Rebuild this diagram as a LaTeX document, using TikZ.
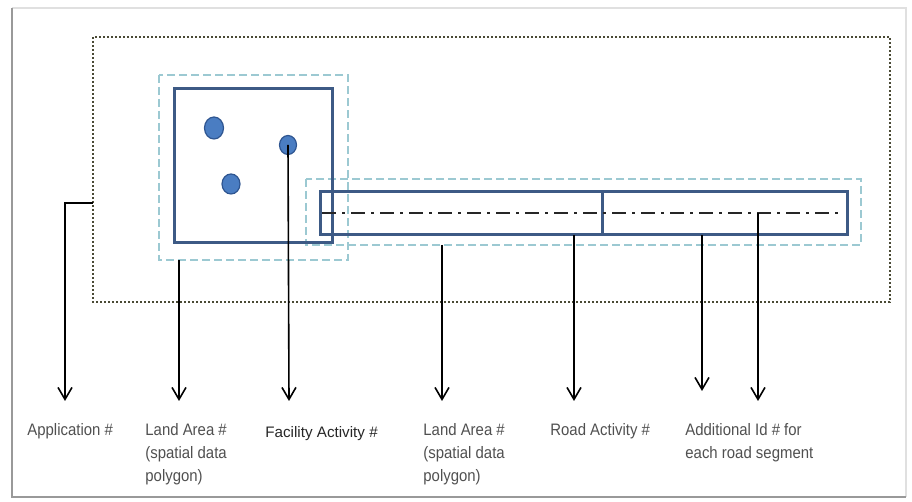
\documentclass[tikz,border=0pt]{standalone}
\usepackage{fontspec}
\setmainfont{Liberation Sans}
\newfontfamily\narrowsans[FakeStretch=0.9]{Liberation Sans}
\usetikzlibrary{arrows.meta,shapes.geometric}
\definecolor{boxblue}{HTML}{3D5A85}
\definecolor{dashcyan}{HTML}{9CC9D2}
\definecolor{dotolive}{HTML}{4A4A35}
\definecolor{dotfill}{HTML}{4A7DC2}
\definecolor{dotedge}{HTML}{2E5590}
\definecolor{labelgray}{HTML}{505050}
\tikzset{
  area/.style={draw=boxblue, line width=1.5pt},
  buffer/.style={draw=dashcyan, line width=1pt, dash pattern=on 4pt off 2pt},
  appbox/.style={draw=dotolive, line width=1.2pt, dash pattern=on 1pt off 1pt},
  centre/.style={draw=black!85, line width=1.3pt, dash pattern=on 7pt off 3pt on 1.5pt off 3pt},
  facility/.style={fill=dotfill, draw=dotedge, line width=0.6pt, ellipse, inner sep=0pt},
  pointer/.style={draw=black, line width=0.8pt, -{Straight Barb[length=6pt,width=7pt]}},
  lbl/.style={anchor=north west, inner sep=0pt, align=left, text=labelgray,
     font=\narrowsans\fontsize{8.3}{11.4}\selectfont},
}
\begin{document}
\begin{tikzpicture}[x=0.5pt,y=-0.5pt]
\useasboundingbox (0,0) rectangle (912,502);
% frame
\draw[black!12, line width=0.8pt] (12,8) -- (906,8) -- (906,497);
\draw[black!40, line width=1.3pt] (12,8) -- (12,497) -- (906,497);
% application boundary
\draw[appbox] (93,37) rectangle (890,302);
% buffers
\draw[buffer] (159,75) rectangle (348,260);
\draw[buffer] (306,179) rectangle (861,245);
% land area polygon and road
\draw[area] (174,89) rectangle (332,243);
\draw[area] (320,192) rectangle (847,235);
\draw[area] (602,192) -- (602,235);
\draw[centre] (322,213) -- (842,213);
% facilities
\node[facility, minimum width=9.5pt, minimum height=11pt] (f1) at (214,128) {};
\node[facility, minimum width=8.5pt, minimum height=9.5pt] (f2) at (288,145) {};
\node[facility, minimum width=9pt, minimum height=10pt] (f3) at (231,184) {};
% start points
\coordinate (sApp) at (93,203);
\coordinate (kApp) at (65,203);
\coordinate (sLa1) at (179,260);
\coordinate (sLa2) at (442,245);
\coordinate (sRoad) at (574,235);
\coordinate (sAdd1) at (702,235);
\coordinate (sAdd2) at (758,213);
% end points
\coordinate (eApp) at (65,401);
\coordinate (eLa1) at (179,401);
\coordinate (eFac) at (289,401);
\coordinate (eLa2) at (442,401);
\coordinate (eRoad) at (574,401);
\coordinate (eAdd1) at (702,391);
\coordinate (eAdd2) at (758,401);
\draw[pointer] (sApp) -- (kApp) -- (eApp);
\draw[pointer] (sLa1) -- (eLa1);
\draw[pointer] (f2.center) -- (eFac);
\draw[pointer] (sLa2) -- (eLa2);
\draw[pointer] (sRoad) -- (eRoad);
\draw[pointer] (sAdd1) -- (eAdd1);
\draw[pointer] (sAdd2) -- (eAdd2);
% labels
\node[lbl] (lApp) at (27,423) {Application \#};
\node[lbl] (lLa1) at (145,423) {Land Area \#\\(spatial data\\polygon)};
\node[lbl, text=black!85, font=\fontsize{7.6}{11.4}\selectfont] (lFac) at (265,426) {Facility Activity \#};
\node[lbl] (lLa2) at (423,423) {Land Area \#\\(spatial data\\polygon)};
\node[lbl] (lRoad) at (550,423) {Road Activity \#};
\node[lbl] (lAdd) at (685,423) {Additional Id \# for\\each road segment};
\end{tikzpicture}
\end{document}
